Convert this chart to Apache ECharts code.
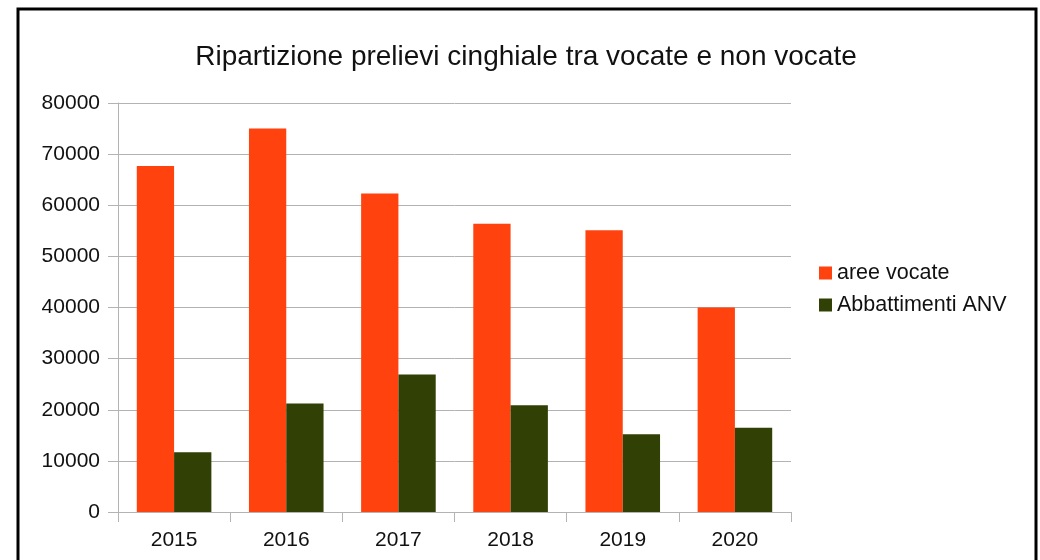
<!DOCTYPE html>
<html>
<head>
<meta charset="utf-8">
<script src="https://cdn.jsdelivr.net/npm/echarts@6/dist/echarts.min.js"></script>
<style>
    html, body {margin: 0; padding: 0; background: #fff;}
    #chart {width: 1040px; height: 560px;}
</style>
</head>
<body>
<div id="chart"></div>
<script>
// dati
var anni = ['2015', '2016', '2017', '2018', '2019', '2020'];
var areeVocate = [67700, 75000, 62300, 56400, 55100, 40000];
var abbattimentiANV = [11700, 21200, 26900, 20900, 15200, 16500];
var yTicks = [0, 10000, 20000, 30000, 40000, 50000, 60000, 70000, 80000];

var font = '"Liberation Sans", Arial, sans-serif';
var testo = '#111';
var griglia = '#b3b3b3';

var chart = echarts.init(document.getElementById('chart'));
chart.setOption({
    animation: false,
    backgroundColor: '#fff',
    title: {
        text: 'Ripartizione prelievi cinghiale tra vocate e non vocate',
        left: 526, top: 43, textAlign: 'center', padding: 0,
        textStyle: {fontFamily: font, fontSize: 28, fontWeight: 'normal', color: testo}
    },
    graphic: [{
        type: 'rect', silent: true,
        shape: {x: 18, y: 9, width: 1018, height: 600},
        style: {fill: 'none', stroke: '#000', lineWidth: 3}
    }],
    legend: {
        orient: 'vertical', left: 819, top: 262, padding: 0,
        itemWidth: 13, itemHeight: 13, itemGap: 10,
        icon: 'rect',
        textStyle: {fontFamily: font, fontSize: 21.5, color: testo, lineHeight: 21, padding: [0, 0, 0, 0]},
        data: ['aree vocate', 'Abbattimenti ANV']
    },
    grid: {left: 118, top: 103, right: 249, bottom: 48},
    xAxis: {
        type: 'category', data: anni,
        axisLine: {lineStyle: {color: griglia, width: 1}},
        axisTick: {show: true, length: 10, lineStyle: {color: griglia}},
        axisLabel: {margin: 18, fontFamily: font, fontSize: 21, color: testo}
    },
    yAxis: {
        type: 'value', min: yTicks[0], max: yTicks[yTicks.length - 1], interval: 10000,
        axisLine: {show: true, lineStyle: {color: griglia, width: 1}},
        axisTick: {show: true, length: 10, lineStyle: {color: griglia}},
        splitLine: {show: true, lineStyle: {color: griglia, width: 1}},
        axisLabel: {
            margin: 18, fontFamily: font, fontSize: 21, color: testo,
            formatter: function (v) { return String(v); }
        }
    },
    series: [
        {
            name: 'aree vocate', type: 'bar', data: areeVocate,
            barGap: '0%', barCategoryGap: '33.5%',
            itemStyle: {color: '#ff420e'}
        },
        {
            name: 'Abbattimenti ANV', type: 'bar', data: abbattimentiANV,
            itemStyle: {color: '#314004'}
        }
    ]
});
</script>
</body>
</html>
